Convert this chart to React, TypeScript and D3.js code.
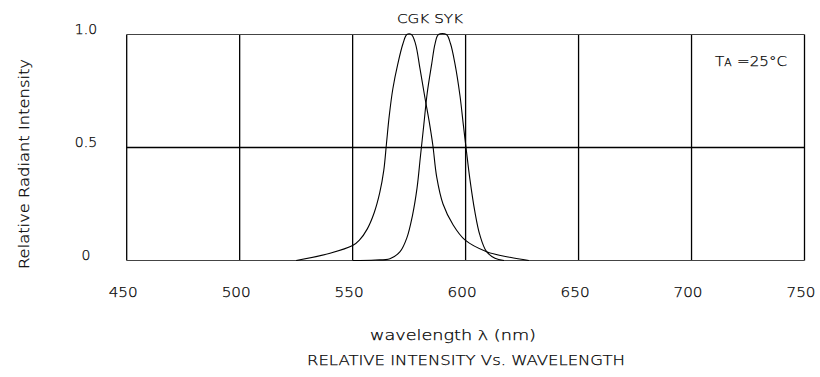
import * as d3 from 'd3';

// wavelength (nm), relative intensity
const cgkWave = [525, 540, 550, 553, 556.5, 559.5, 562, 563.8, 565, 566.2, 567.8, 570, 572.3, 574, 576, 577.8, 579.8, 582, 583.8, 585.5, 587.2, 590, 594.5, 599.7, 609.3, 619.6, 628];
const cgkValue = [0, 0.032, 0.066, 0.09, 0.14, 0.21, 0.3, 0.4, 0.52, 0.64, 0.76, 0.87, 0.96, 1.0, 1.0, 0.96, 0.85, 0.72, 0.62, 0.51, 0.37, 0.25, 0.157, 0.091, 0.039, 0.014, 0];

const sykWave = [550, 560, 566.5, 571, 574, 576.5, 578.5, 580, 581.5, 583, 585, 586.5, 588, 591.5, 593.3, 595.3, 597.5, 599, 600.3, 601.9, 604.1, 606.3, 609.3, 613, 617];
const sykValue = [0, 0.002, 0.008, 0.039, 0.1, 0.2, 0.32, 0.46, 0.6, 0.74, 0.87, 0.96, 1.0, 1.0, 0.96, 0.87, 0.73, 0.6, 0.49, 0.36, 0.216, 0.113, 0.039, 0.01, 0];

const xTicks = [450, 500, 550, 600, 650, 700, 750];
const yTicks = [0, 0.5, 1.0];
const yTickLabels = ['0', '0.5', '1.0'];

const W = 820;
const H = 377;
const FONT = '"DejaVu Sans", "Liberation Sans", sans-serif';
const WEIGHT = 200;

export default function App() {
  const x = d3.scaleLinear().domain([450, 750]).range([126.7, 804.5]);
  const y = d3.scaleLinear().domain([0, 1]).range([260.5, 34.5]);

  const line = d3.line<[number, number]>()
    .x(d => x(d[0]))
    .y(d => y(Math.min(1, Math.max(0, d[1]))))
    .curve(d3.curveCatmullRom.alpha(0.5));

  const cgk = cgkWave.map((w, i) => [w, cgkValue[i]] as [number, number]);
  const syk = sykWave.map((w, i) => [w, sykValue[i]] as [number, number]);

  const [x0, x1] = x.range();
  const [y0, y1] = y.range();

  return (
    <div style={{ position: 'absolute', left: 0, top: 0 }}>
      <svg width={W} height={H} style={{ display: 'block', background: '#fff' }}>
        {/* grid */}
        {xTicks.map(t => (
          <line key={'v' + t} x1={x(t)} x2={x(t)} y1={y0} y2={y1} stroke="#000" strokeWidth={1.3} />
        ))}
        {yTicks.map(t => (
          <line key={'h' + t} x1={x0} x2={x1} y1={y(t)} y2={y(t)}
            stroke={t === 0.5 ? '#000' : '#444'} strokeWidth={t === 0.5 ? 1.4 : 1.1} />
        ))}

        {/* curves */}
        <path d={line(cgk) || ''} fill="none" stroke="#000" strokeWidth={1.1} />
        <path d={line(syk) || ''} fill="none" stroke="#000" strokeWidth={1.1} />

        {/* tick labels */}
        <g fontFamily={FONT} fontWeight={WEIGHT} fontSize={14} fill="#000" stroke="#000" strokeWidth={0.25}>
          {xTicks.map(t => (
            <text key={'xt' + t} x={x(t) - 3.5} y={297} textAnchor="middle" textLength={29} lengthAdjust="spacingAndGlyphs">{t}</text>
          ))}
          {yTicks.map((t, i) => (
            <text key={'yt' + t} x={86} y={y(t) - 0.5} textAnchor="middle">{yTickLabels[i]}</text>
          ))}
        </g>

        {/* labels */}
        <g fontFamily={FONT} fontWeight={WEIGHT} fill="#000" stroke="#000" strokeWidth={0.25}>
          <text x={430} y={22.5} fontSize={13} textAnchor="middle" textLength={66} lengthAdjust="spacingAndGlyphs">CGK SYK</text>
          <text x={715} y={66} fontSize={14} textLength={72} lengthAdjust="spacingAndGlyphs">
            T<tspan fontSize={10}>A</tspan>
            <tspan dx={5}>=25°C</tspan>
          </text>
          <text x={453} y={340} fontSize={14} textAnchor="middle" textLength={166} lengthAdjust="spacingAndGlyphs">wavelength  λ  (nm)</text>
          <text x={466} y={365} fontSize={14} textAnchor="middle" textLength={318} lengthAdjust="spacingAndGlyphs">RELATIVE  INTENSITY  Vs.  WAVELENGTH</text>
          <text transform="translate(29,164) rotate(-90)" fontSize={14} textAnchor="middle" textLength={210} lengthAdjust="spacingAndGlyphs">Relative  Radiant  Intensity</text>
        </g>
      </svg>
    </div>
  );
}
